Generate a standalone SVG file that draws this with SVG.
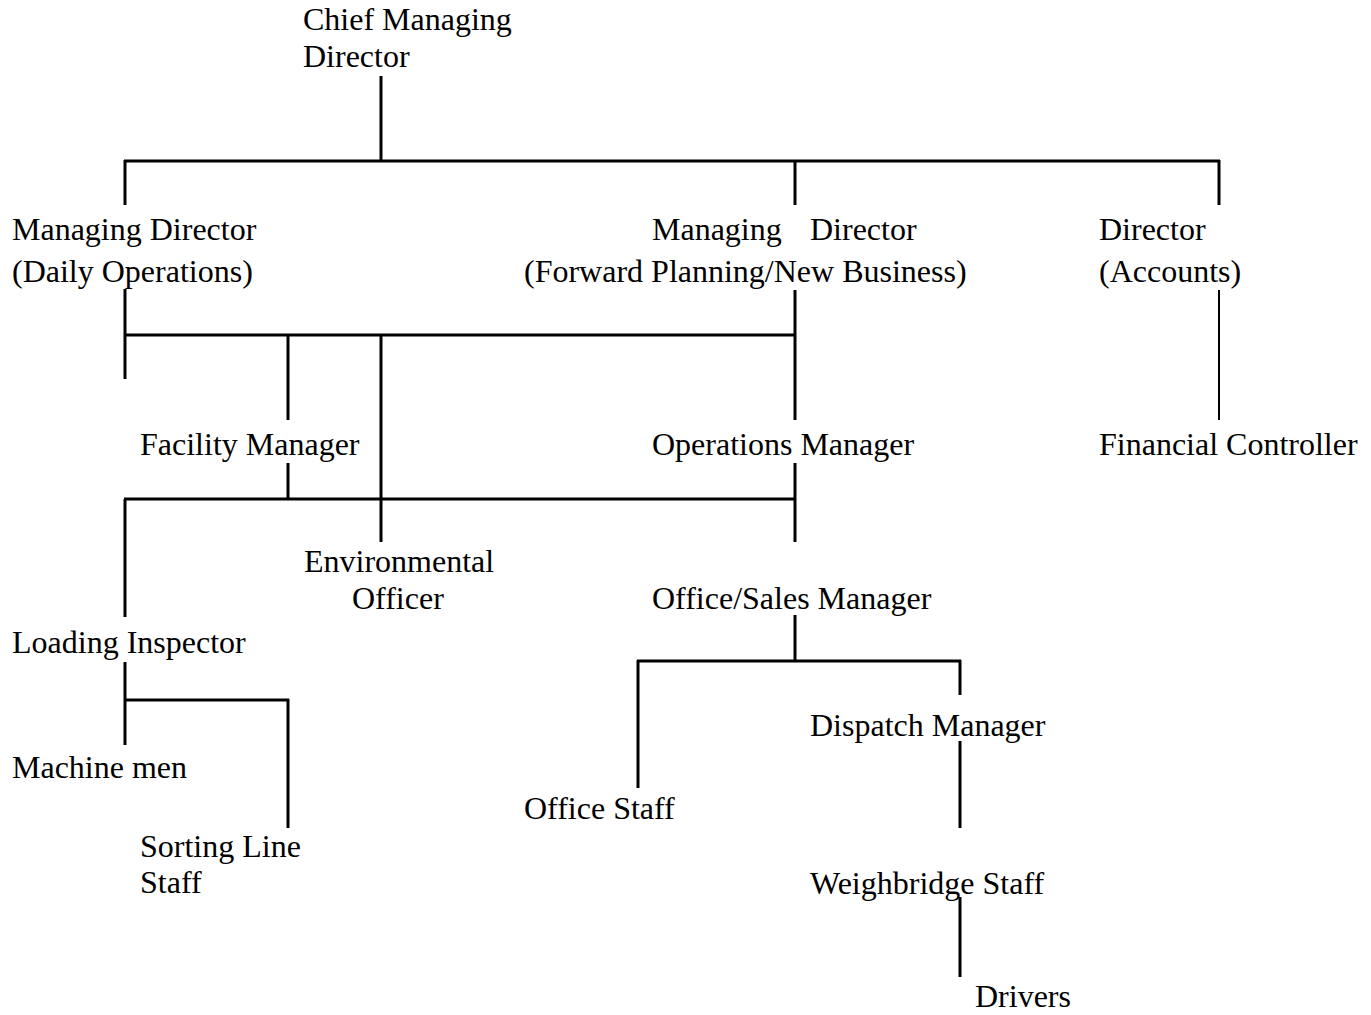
<svg xmlns="http://www.w3.org/2000/svg" width="1371" height="1015" viewBox="0 0 1371 1015">
<style>
text{font-family:"Liberation Serif","Times New Roman",serif;font-size:32px;fill:#000}
.c line{stroke:#000;stroke-width:3;stroke-linecap:butt}
.c line.thin{stroke-width:2}
</style>
<rect width="1371" height="1015" fill="#fff"/>
<g class="c" id="connectors">
<line x1="381" y1="76" x2="381" y2="161"/>
<line x1="124" y1="161" x2="1220" y2="161"/>
<line x1="125" y1="160" x2="125" y2="205"/>
<line x1="795" y1="160" x2="795" y2="205"/>
<line x1="1219" y1="160" x2="1219" y2="205"/>
<line x1="125" y1="289" x2="125" y2="379"/>
<line x1="124" y1="335" x2="796" y2="335"/>
<line x1="795" y1="290" x2="795" y2="420"/>
<line x1="288" y1="335" x2="288" y2="420"/>
<line x1="381" y1="335" x2="381" y2="542"/>
<line class="thin" x1="1219" y1="290" x2="1219" y2="420"/>
<line x1="288" y1="463" x2="288" y2="499"/>
<line x1="124" y1="499" x2="796" y2="499"/>
<line x1="795" y1="463" x2="795" y2="542"/>
<line x1="125" y1="499" x2="125" y2="617"/>
<line x1="795" y1="615" x2="795" y2="661"/>
<line x1="637" y1="661" x2="961" y2="661"/>
<line x1="638" y1="660" x2="638" y2="788"/>
<line x1="960" y1="660" x2="960" y2="695"/>
<line x1="960" y1="741" x2="960" y2="828"/>
<line x1="960" y1="897" x2="960" y2="977"/>
<line x1="125" y1="662" x2="125" y2="745"/>
<line x1="124" y1="700" x2="289" y2="700"/>
<line x1="288" y1="699" x2="288" y2="828"/>
</g>
<g id="n-cmd"><text x="303" y="30">Chief Managing</text><text x="303" y="67">Director</text></g>
<g id="n-md-daily"><text x="12" y="240">Managing Director</text><text x="12" y="282">(Daily Operations)</text></g>
<g id="n-md-forward"><text y="240"><tspan x="652">Managing</tspan><tspan x="810">Director</tspan></text><text x="524" y="282">(Forward Planning/New Business)</text></g>
<g id="n-dir-accounts"><text x="1099" y="240">Director</text><text x="1099" y="282">(Accounts)</text></g>
<g id="n-facility"><text x="140" y="455">Facility Manager</text></g>
<g id="n-operations"><text x="652" y="455">Operations Manager</text></g>
<g id="n-financial"><text x="1099" y="455">Financial Controller</text></g>
<g id="n-environmental"><text x="304" y="572">Environmental</text><text x="352" y="609">Officer</text></g>
<g id="n-office-sales"><text x="652" y="609">Office/Sales Manager</text></g>
<g id="n-loading"><text x="12" y="653">Loading Inspector</text></g>
<g id="n-dispatch"><text x="810" y="736">Dispatch Manager</text></g>
<g id="n-machine"><text x="12" y="778">Machine men</text></g>
<g id="n-office-staff"><text x="524" y="819">Office Staff</text></g>
<g id="n-sorting"><text x="140" y="857">Sorting Line</text><text x="140" y="893">Staff</text></g>
<g id="n-weighbridge"><text x="810" y="894">Weighbridge Staff</text></g>
<g id="n-drivers"><text x="975" y="1007">Drivers</text></g>
</svg>
